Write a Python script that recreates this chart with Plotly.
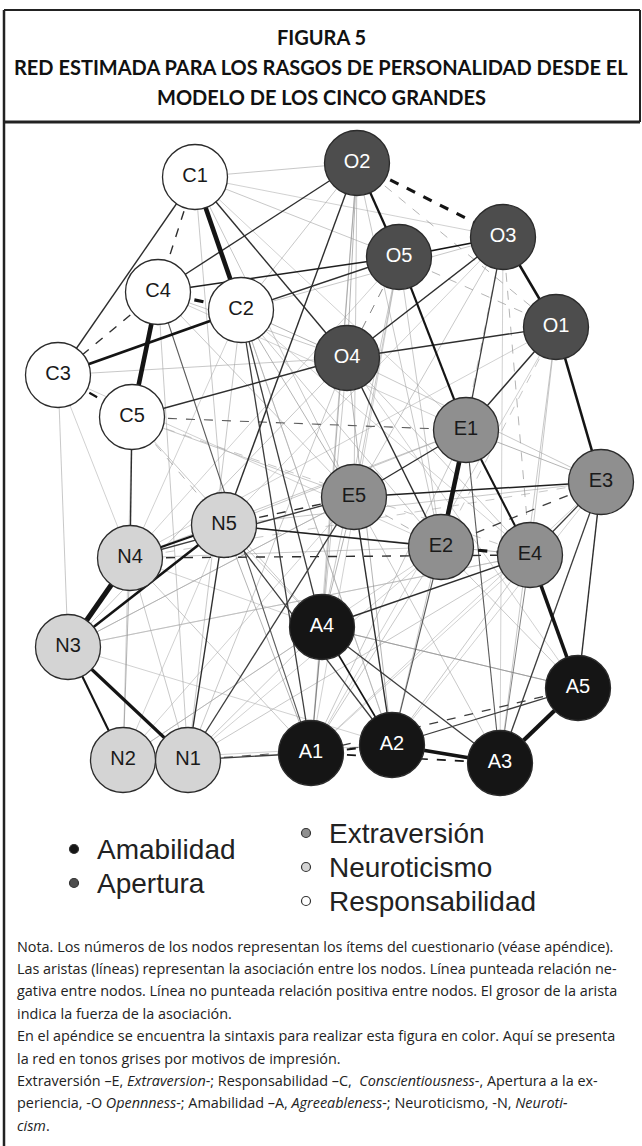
import plotly.graph_objects as go

# ---------------- data ----------------
node_names = ["C1", "C2", "C3", "C4", "C5",
              "O1", "O2", "O3", "O4", "O5",
              "E1", "E2", "E3", "E4", "E5",
              "N1", "N2", "N3", "N4", "N5",
              "A1", "A2", "A3", "A4", "A5"]
# network layout coordinates
node_x = [195, 241, 58, 158, 132,
          556, 357, 503, 347, 399,
          466, 441, 601, 530, 354,
          188, 123, 68, 130, 224,
          311, 392, 500, 322, 578]
node_y = [177, 310, 375, 292, 417,
          327, 163, 237, 358, 257,
          430, 547, 482, 555, 497,
          760, 760, 647, 558, 525,
          753, 745, 763, 627, 688]

# edges: from, to, signed weight (negative -> dashed)
edge_from = ["C1", "C4", "C2", "N3", "N3", "N3", "N3", "E1", "E4", "A5", "A2", "O3", "O1", "O2", "O5",
             "O2", "C4", "E2", "C3", "E1", "A1", "A1", "N4",
             "C1", "C1", "C4", "C4", "C4", "C2", "C5", "C5", "C1", "O4", "O4", "O5", "O1", "O2",
             "O4", "E5", "E5", "N5", "N5", "N4", "N4", "E4", "A4", "A4", "E5", "E3", "E3", "E3",
             "E3", "A5", "A5", "N1", "N1", "N1", "N1", "C2", "C2", "C5", "O3", "C4", "N5", "E2",
             "E1", "E4", "A4",
             "C1", "C1", "C1", "C1", "C1", "C1", "C1",
             "C2", "C2", "C2", "C2", "C2", "C2", "C2", "C2", "C2",
             "C3", "C3", "C3", "C3",
             "C4", "C4", "C4", "C4",
             "C5", "C5", "C5", "C5", "C5",
             "O2", "O2", "O2", "O2", "O2", "O2",
             "O5", "O5", "O5", "O5", "O5", "O5", "O5",
             "O3", "O3", "O3", "O3", "O3",
             "O1", "O1", "O1", "O1", "O1",
             "O4", "O4", "O4", "O4", "O4", "O4", "O4",
             "E1", "E1", "E1", "E1", "E1",
             "E5", "E5", "E5", "E5", "E5",
             "E2", "E2", "E2",
             "E4", "E4", "E4", "E4",
             "E3", "E3", "E3", "E3",
             "N5", "N5", "N5",
             "N4", "N4", "N4", "N4", "N4",
             "N3", "N3", "N3",
             "N2", "N2", "N2",
             "N1", "A4", "A4", "A2"]
edge_to = ["C2", "C5", "C3", "N4", "N5", "N1", "N2", "E2", "A5", "A3", "A3", "O1", "E3", "O5", "E1",
           "O3", "C2", "E4", "C5", "E4", "A2", "A3", "N5",
           "C3", "C4", "C3", "O2", "O5", "O5", "O4", "N4", "O4", "O1", "O3", "O3", "E1", "N5",
           "E2", "E3", "E1", "E2", "E5", "E4", "E5", "A4", "A2", "A3", "A2", "A5", "A3", "E2",
           "E4", "A2", "A1", "A1", "A2", "N5", "E5", "A4", "A1", "E1", "E1", "A1", "A2", "A2",
           "A3", "A3", "A5",
           "O2", "O5", "O3", "E5", "N5", "A2", "E1",
           "O2", "O4", "O3", "E5", "E2", "E4", "N1", "N4", "A2",
           "N3", "N4", "E2", "O4",
           "O4", "E5", "N1", "E1",
           "N5", "E4", "A4", "N2", "E5",
           "E5", "A4", "E2", "A1", "O1", "O4",
           "O4", "E5", "A1", "N4", "E2", "A4", "O1",
           "E4", "E2", "A3", "N5", "E5",
           "A3", "E2", "N4", "A1", "E4",
           "A1", "A2", "N1", "E4", "N3", "E3", "A5",
           "N4", "A1", "N5", "E3", "A2",
           "N3", "A4", "E2", "A3", "N2",
           "A1", "N1", "A5",
           "N1", "A1", "N3", "A2",
           "N4", "A1", "N5", "A2",
           "A1", "A4", "E4",
           "A1", "N1", "N2", "A4", "E2",
           "E5", "A2", "E4",
           "A4", "E2", "N5",
           "A4", "A1", "A5", "N2"]
edge_weight = [0.45, 0.45, 0.28, 0.5, 0.25, 0.3, 0.2, 0.45, 0.35, 0.4, 0.35, 0.25, 0.25, 0.22, 0.2,
               -0.3, -0.3, -0.3, -0.2, 0.2, -0.2, -0.15, 0.2,
               0.13, -0.13, -0.13, 0.13, 0.14, 0.13, 0.13, 0.13, 0.13, 0.13, 0.13, 0.15, 0.13, 0.13,
               0.13, 0.14, 0.13, 0.14, -0.13, -0.13, 0.12, 0.13, 0.15, 0.12, 0.13, 0.13, 0.12, -0.12,
               0.12, 0.12, -0.12, 0.12, -0.1, 0.13, 0.12, 0.12, 0.12, -0.1, 0.12, 0.1, 0.12, 0.1,
               0.1, 0.08, 0.06,
               0.05, 0.05, 0.04, 0.05, 0.05, 0.04, 0.04,
               0.05, 0.06, 0.05, 0.06, 0.05, 0.04, 0.05, 0.04, 0.05,
               0.05, 0.04, 0.04, 0.05,
               0.05, 0.05, 0.05, 0.04,
               -0.06, -0.05, 0.05, 0.04, 0.05,
               0.05, 0.06, 0.05, 0.04, -0.06, 0.06,
               -0.08, 0.05, 0.04, 0.04, 0.05, 0.05, -0.06,
               -0.06, -0.05, 0.04, 0.04, 0.05,
               0.05, -0.05, 0.04, 0.04, 0.05,
               0.05, 0.06, 0.05, 0.05, 0.05, 0.05, 0.04,
               0.05, 0.05, 0.05, 0.06, 0.05,
               0.05, 0.06, -0.06, 0.05, 0.04,
               0.05, 0.04, 0.05,
               0.05, 0.04, 0.04, 0.05,
               -0.05, 0.04, 0.05, 0.04,
               0.06, 0.05, 0.06,
               0.05, 0.05, 0.06, 0.04, 0.05,
               0.05, 0.04, 0.04,
               0.05, 0.04, 0.04,
               0.05, 0.08, 0.06, 0.04]

groups = ["Amabilidad", "Apertura", "Extraversión", "Neuroticismo", "Responsabilidad"]
group_prefix = ["A", "O", "E", "N", "C"]
group_fill = ["#151515", "#4d4d4d", "#8f8f8f", "#d4d4d4", "#ffffff"]
group_text = ["#ffffff", "#ffffff", "#1a1a1a", "#1a1a1a", "#1a1a1a"]

title_lines = ["FIGURA 5",
               "RED ESTIMADA PARA LOS RASGOS DE PERSONALIDAD DESDE EL",
               "MODELO DE LOS CINCO GRANDES"]

note_lines = [
    "Nota. Los números de los nodos representan los ítems del cuestionario (véase apéndice).",
    "Las aristas (líneas) representan la asociación entre los nodos. Línea punteada relación ne-",
    "gativa entre nodos. Línea no punteada relación positiva entre nodos. El grosor de la arista",
    "indica la fuerza de la asociación.",
    "En el apéndice se encuentra la sintaxis para realizar esta figura en color. Aquí se presenta",
    "la red en tonos grises por motivos de impresión.",
    "Extraversión –E, <i>Extraversion</i>-; Responsabilidad –C,  <i>Conscientiousness</i>-, Apertura a la ex-",
    "periencia, -O <i>Opennness</i>-; Amabilidad –A, <i>Agreeableness</i>-; Neuroticismo, -N, <i>Neuroti-</i>",
    "<i>cism</i>.",
]

# ---------------- figure ----------------
W, H = 642, 1146
pos = {n: (x, y) for n, x, y in zip(node_names, node_x, node_y)}

fig = go.Figure()

# edges, drawn weakest first
order = sorted(range(len(edge_weight)), key=lambda i: abs(edge_weight[i]))
for i in order:
    a, b, w = edge_from[i], edge_to[i], edge_weight[i]
    aw = abs(w)
    width = 0.6 + 10 * max(0.0, aw - 0.05)
    g = int(max(20, min(200, 235 - 1450 * aw)))
    col = f"rgb({g},{g},{g})"
    (x0, y0), (x1, y1) = pos[a], pos[b]
    fig.add_trace(go.Scatter(
        x=[x0, x1], y=[y0, y1], mode="lines",
        line=dict(color=col, width=width, dash="dash" if w < 0 else "solid"),
        hoverinfo="skip", showlegend=False))

# nodes
for gi, pre in enumerate(group_prefix):
    idx = [k for k, n in enumerate(node_names) if n.startswith(pre)]
    fig.add_trace(go.Scatter(
        x=[node_x[k] for k in idx], y=[node_y[k] for k in idx],
        mode="markers+text", text=[node_names[k] for k in idx],
        textposition="middle center",
        textfont=dict(family="Liberation Sans, Arial, sans-serif", size=20, color=group_text[gi]),
        marker=dict(size=65, color=group_fill[gi], line=dict(color="#2b2b2b", width=1.3)),
        hoverinfo="skip", showlegend=False))

# legend (drawn manually in two columns)
leg_x = [74, 74, 306, 306, 306]
leg_y = [849, 883, 833, 867, 901]
fig.add_trace(go.Scatter(
    x=leg_x, y=leg_y, mode="markers",
    marker=dict(size=9, color=group_fill, line=dict(color="#333333", width=1.2)),
    hoverinfo="skip", showlegend=False))

annotations = []
for gname, lx, ly in zip(groups, leg_x, leg_y):
    annotations.append(dict(x=lx + 21, y=ly, xref="x", yref="y", text=gname, showarrow=False,
                            xanchor="left", yanchor="middle",
                            font=dict(family="Liberation Sans, Arial, sans-serif", size=28, color="#222222")))

title_y = [37, 67, 97]
for t, ty in zip(title_lines, title_y):
    annotations.append(dict(x=W / 2, y=ty, xref="x", yref="y", text=t, showarrow=False,
                            xanchor="center", yanchor="middle",
                            font=dict(family="Lato, sans-serif",
                                      size=20, color="#111111", weight="bold")))

for k, t in enumerate(note_lines):
    annotations.append(dict(x=15, y=946 + 22.4 * k, xref="x", yref="y", text=t, showarrow=False,
                            xanchor="left", yanchor="middle",
                            font=dict(family="Open Sans, sans-serif", size=14.4, color="#222222")))

shapes = [
    dict(type="line", x0=4, x1=640, y0=10, y1=10, xref="x", yref="y", line=dict(color="#222", width=2)),
    dict(type="line", x0=4, x1=4, y0=10, y1=H, xref="x", yref="y", line=dict(color="#222", width=2.5)),
    dict(type="line", x0=640, x1=640, y0=10, y1=122, xref="x", yref="y", line=dict(color="#222", width=2)),
    dict(type="line", x0=4, x1=640, y0=122, y1=122, xref="x", yref="y", line=dict(color="#222", width=3)),
]

fig.update_layout(
    width=W, height=H, margin=dict(l=0, r=0, t=0, b=0),
    paper_bgcolor="white", plot_bgcolor="white",
    xaxis=dict(range=[0, W], visible=False, fixedrange=True),
    yaxis=dict(range=[H, 0], visible=False, fixedrange=True),
    annotations=annotations, shapes=shapes,
)

fig.write_html("out.html", config={"displayModeBar": False},
               post_script="document.body.style.margin='0px';document.body.style.overflow='hidden';")
